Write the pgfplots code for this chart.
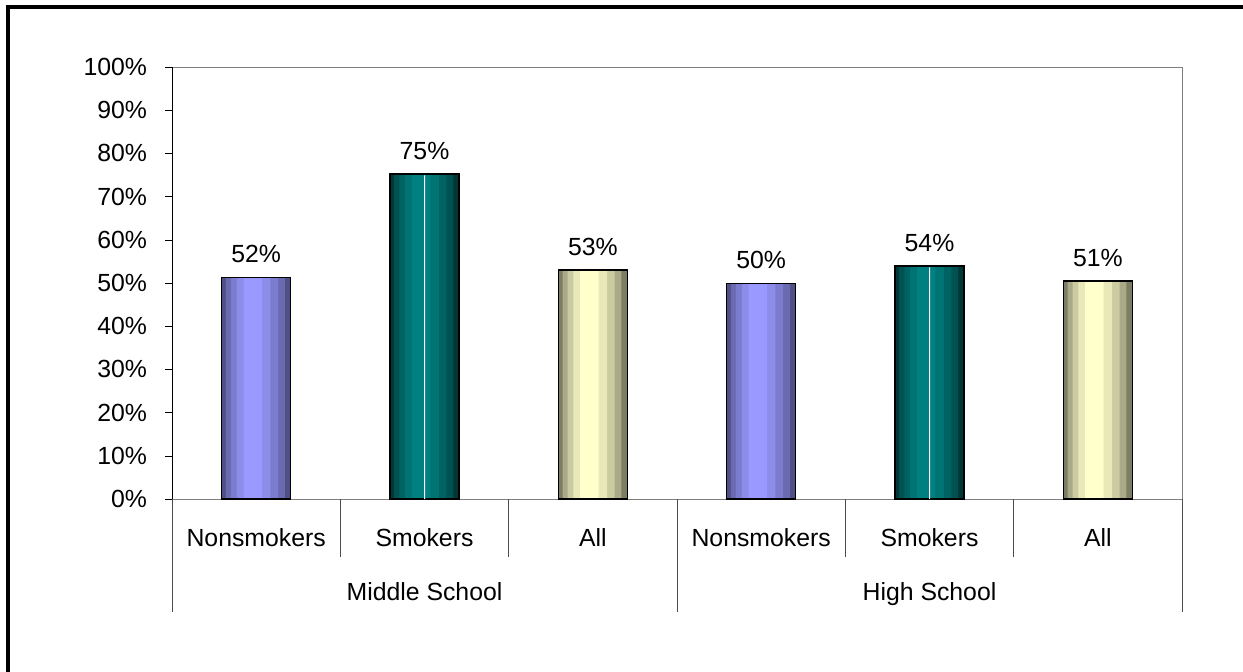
\documentclass[border=0pt]{standalone}
\usepackage{pgfplots}
\pgfplotsset{compat=1.18}
\usepackage{fontspec}
\setmainfont{Liberation Sans}
\definecolor{nsD}{RGB}{80,80,135}
\definecolor{nsL}{RGB}{153,153,255}
\definecolor{smD}{RGB}{0,55,55}
\definecolor{smL}{RGB}{0,128,128}
\definecolor{alD}{RGB}{125,125,100}
\definecolor{alL}{RGB}{255,255,204}
% layered bar: #1 dark, #2 light, #3 coordinates
\newcommand\cylbar[3]{%
  \addplot[ybar, bar shift=0pt, bar width=0.41, fill=#1, draw=none, nodes near coords={}] coordinates {#3};
  \addplot[ybar, bar shift=-0.005, bar width=0.35, fill=#2!35!#1, draw=none, nodes near coords={}] coordinates {#3};
  \addplot[ybar, bar shift=-0.01, bar width=0.28, fill=#2!60!#1, draw=none, nodes near coords={}] coordinates {#3};
  \addplot[ybar, bar shift=-0.015, bar width=0.2, fill=#2!82!#1, draw=none, nodes near coords={}] coordinates {#3};
  \addplot[ybar, bar shift=-0.02, bar width=0.11, fill=#2, draw=none, nodes near coords={}] coordinates {#3};
  \addplot[ybar, bar shift=0pt, bar width=0.41, fill=none, draw=black, line width=0.8pt] coordinates {#3};
}
\begin{document}
\begin{tikzpicture}[font=\fontsize{12.4}{14.8}\selectfont]
\begin{axis}[
  scale only axis, width=505pt, height=216pt,
  xmin=-0.5, xmax=5.5, ymin=0, ymax=100,
  clip=false,
  axis line style={draw=gray},
  ytick={0,10,...,100},
  ytick pos=left,
  yticklabel={\pgfmathprintnumber{\tick}\%},
  /pgf/number format/assume math mode=true,
  tick align=outside,
  major tick length=3.5pt,
  ytick style={black},
  yticklabel style={xshift=-5.5pt},
  xtick={0,...,5},
  xticklabels={Nonsmokers,Smokers,All,Nonsmokers,Smokers,All},
  xtick style={draw=none},
  xticklabel style={anchor=base, yshift=-20pt},
  point meta=explicit symbolic,
  nodes near coords={\pgfplotspointmeta\%},
  nodes near coords style={anchor=south, yshift=3.5pt},
]
\cylbar{nsD}{nsL}{(0,51.3) [52] (3,49.9) [50]}
\cylbar{smD}{smL}{(1,75.2) [75] (4,53.9) [54]}
\cylbar{alD}{alL}{(2,53.0) [53] (5,50.4) [51]}
\addplot[ybar, bar shift=0pt, bar width=0.5pt, fill=white, draw=none, nodes near coords={}]
  coordinates {(1,74.9) [] (4,53.6) []};
\draw[black] (rel axis cs:0,0) -- (rel axis cs:0,1);
\pgfplotsinvokeforeach{0.5,1.5,3.5,4.5}{
  \draw[black!70] (axis cs:#1,0) -- ([yshift=-29pt]axis cs:#1,0);
}
\pgfplotsinvokeforeach{-0.5,2.5,5.5}{
  \draw[black!70] (axis cs:#1,0) -- ([yshift=-56.5pt]axis cs:#1,0);
}
\node[anchor=base] at ([yshift=-50.5pt]axis cs:1,0) {Middle School};
\node[anchor=base] at ([yshift=-50.5pt]axis cs:4,0) {High School};
\draw[line width=1.6pt] ([shift={(-82pt,-120pt)}]rel axis cs:0,0) -- ([shift={(-82pt,30pt)}]rel axis cs:0,1) -- ([shift={(120pt,30pt)}]rel axis cs:1,1);
\coordinate (bl) at ([shift={(-86pt,-86pt)}]rel axis cs:0,0);
\coordinate (tr) at ([shift={(30.5pt,33.5pt)}]rel axis cs:1,1);
\end{axis}
\pgfresetboundingbox
\path[use as bounding box] (bl) rectangle (tr);
\end{tikzpicture}
\end{document}
